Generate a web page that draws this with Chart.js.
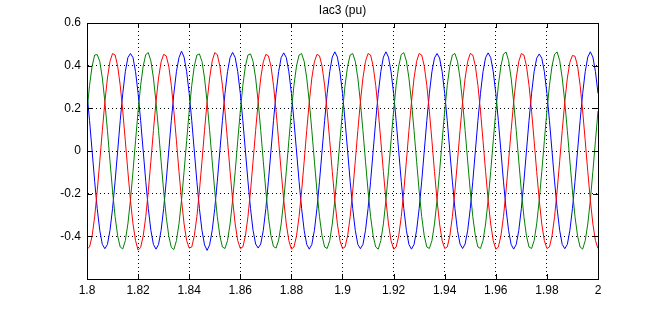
<!DOCTYPE html>
<html>
<head>
<meta charset="utf-8">
<script src="https://cdn.jsdelivr.net/npm/chart.js@4/dist/chart.umd.min.js"></script>
<style>
  html, body { margin: 0; padding: 0; background: #fff; }
  #plot { display: block; }
</style>
</head>
<body>
<canvas id="plot" width="661" height="314"></canvas>
<script>
// samples every 1 ms from 1.8 s to 2.0 s (201 points)
const tStart = 1.8;
const tStep = 0.001;

// phase a (blue)
const phaseA = [
  0.270, 0.142, 0.000, -0.142, -0.270, -0.372, -0.438, -0.458, -0.438, -0.372, -0.270, -0.142, 0.000, 0.142, 0.270, 0.372, 0.438, 0.457, 0.438, 0.372,
  0.270, 0.142, 0.000, -0.142, -0.270, -0.372, -0.438, -0.460, -0.438, -0.372, -0.270, -0.142, 0.000, 0.142, 0.270, 0.372, 0.438, 0.468, 0.440, 0.372,
  0.270, 0.142, 0.000, -0.142, -0.270, -0.372, -0.440, -0.466, -0.440, -0.372, -0.270, -0.142, 0.000, 0.142, 0.270, 0.372, 0.438, 0.462, 0.438, 0.372,
  0.270, 0.142, 0.000, -0.142, -0.270, -0.372, -0.436, -0.455, -0.436, -0.372, -0.270, -0.142, 0.000, 0.142, 0.270, 0.372, 0.438, 0.460, 0.438, 0.372,
  0.270, 0.142, 0.000, -0.142, -0.270, -0.372, -0.438, -0.460, -0.438, -0.372, -0.270, -0.142, 0.000, 0.142, 0.270, 0.372, 0.440, 0.465, 0.440, 0.372,
  0.270, 0.142, 0.000, -0.142, -0.270, -0.372, -0.438, -0.458, -0.438, -0.372, -0.270, -0.142, 0.000, 0.142, 0.270, 0.372, 0.440, 0.465, 0.440, 0.372,
  0.270, 0.142, 0.000, -0.142, -0.270, -0.372, -0.438, -0.460, -0.438, -0.372, -0.270, -0.142, 0.000, 0.142, 0.270, 0.372, 0.436, 0.457, 0.436, 0.372,
  0.270, 0.142, 0.000, -0.142, -0.270, -0.372, -0.436, -0.457, -0.436, -0.372, -0.270, -0.142, 0.000, 0.142, 0.270, 0.372, 0.438, 0.460, 0.438, 0.372,
  0.270, 0.142, 0.000, -0.142, -0.270, -0.372, -0.438, -0.460, -0.438, -0.372, -0.270, -0.142, 0.000, 0.142, 0.270, 0.372, 0.435, 0.455, 0.435, 0.372,
  0.270, 0.142, 0.000, -0.142, -0.270, -0.372, -0.438, -0.458, -0.438, -0.372, -0.270, -0.142, 0.000, 0.142, 0.270, 0.372, 0.440, 0.465, 0.440, 0.372,
  0.270
];

// phase b (green)
const phaseB = [
  0.187, 0.308, 0.398, 0.450, 0.452, 0.420, 0.342, 0.230, 0.096, -0.048, -0.187, -0.308, -0.398, -0.450, -0.459, -0.420, -0.342, -0.230, -0.096, 0.048,
  0.187, 0.308, 0.398, 0.452, 0.461, 0.422, 0.342, 0.230, 0.096, -0.048, -0.187, -0.308, -0.398, -0.452, -0.462, -0.420, -0.342, -0.230, -0.096, 0.048,
  0.187, 0.308, 0.398, 0.450, 0.455, 0.420, 0.342, 0.230, 0.096, -0.048, -0.187, -0.308, -0.398, -0.450, -0.457, -0.420, -0.342, -0.230, -0.096, 0.048,
  0.187, 0.308, 0.398, 0.450, 0.455, 0.420, 0.342, 0.230, 0.096, -0.048, -0.187, -0.308, -0.398, -0.448, -0.455, -0.418, -0.342, -0.230, -0.096, 0.048,
  0.187, 0.308, 0.398, 0.450, 0.457, 0.420, 0.342, 0.230, 0.096, -0.048, -0.187, -0.308, -0.398, -0.450, -0.457, -0.420, -0.342, -0.230, -0.096, 0.048,
  0.187, 0.308, 0.398, 0.450, 0.457, 0.420, 0.342, 0.230, 0.096, -0.048, -0.187, -0.308, -0.398, -0.450, -0.460, -0.420, -0.342, -0.230, -0.096, 0.048,
  0.187, 0.308, 0.398, 0.452, 0.461, 0.422, 0.342, 0.230, 0.096, -0.048, -0.187, -0.308, -0.398, -0.450, -0.457, -0.420, -0.342, -0.230, -0.096, 0.048,
  0.187, 0.308, 0.398, 0.450, 0.457, 0.420, 0.342, 0.230, 0.096, -0.048, -0.187, -0.308, -0.398, -0.450, -0.457, -0.420, -0.342, -0.230, -0.096, 0.048,
  0.187, 0.308, 0.398, 0.454, 0.464, 0.424, 0.342, 0.230, 0.096, -0.048, -0.187, -0.308, -0.398, -0.450, -0.457, -0.420, -0.342, -0.230, -0.096, 0.048,
  0.187, 0.308, 0.398, 0.454, 0.464, 0.424, 0.342, 0.230, 0.096, -0.048, -0.187, -0.308, -0.398, -0.450, -0.460, -0.420, -0.342, -0.230, -0.096, 0.048,
  0.187
];

// phase c (red)
const phaseC = [
  -0.459, -0.450, -0.398, -0.308, -0.187, -0.048, 0.096, 0.230, 0.342, 0.420, 0.457, 0.450, 0.398, 0.308, 0.187, 0.048, -0.096, -0.230, -0.342, -0.420,
  -0.465, -0.452, -0.398, -0.308, -0.187, -0.048, 0.096, 0.230, 0.342, 0.418, 0.453, 0.446, 0.398, 0.308, 0.187, 0.048, -0.096, -0.230, -0.342, -0.420,
  -0.455, -0.450, -0.398, -0.308, -0.187, -0.048, 0.096, 0.230, 0.342, 0.422, 0.461, 0.452, 0.398, 0.308, 0.187, 0.048, -0.096, -0.230, -0.342, -0.420,
  -0.457, -0.450, -0.398, -0.308, -0.187, -0.048, 0.096, 0.230, 0.342, 0.418, 0.453, 0.446, 0.398, 0.308, 0.187, 0.048, -0.096, -0.230, -0.342, -0.420,
  -0.460, -0.450, -0.398, -0.308, -0.187, -0.048, 0.096, 0.230, 0.342, 0.418, 0.453, 0.446, 0.398, 0.308, 0.187, 0.048, -0.096, -0.230, -0.342, -0.420,
  -0.457, -0.450, -0.398, -0.308, -0.187, -0.048, 0.096, 0.230, 0.342, 0.420, 0.457, 0.450, 0.398, 0.308, 0.187, 0.048, -0.096, -0.230, -0.342, -0.420,
  -0.460, -0.450, -0.398, -0.308, -0.187, -0.048, 0.096, 0.230, 0.342, 0.420, 0.457, 0.450, 0.398, 0.308, 0.187, 0.048, -0.096, -0.230, -0.342, -0.420,
  -0.457, -0.450, -0.398, -0.308, -0.187, -0.048, 0.096, 0.230, 0.342, 0.420, 0.457, 0.450, 0.398, 0.308, 0.187, 0.048, -0.096, -0.230, -0.342, -0.420,
  -0.460, -0.450, -0.398, -0.308, -0.187, -0.048, 0.096, 0.230, 0.342, 0.420, 0.457, 0.450, 0.398, 0.308, 0.187, 0.048, -0.096, -0.230, -0.342, -0.420,
  -0.457, -0.450, -0.398, -0.308, -0.187, -0.048, 0.096, 0.230, 0.342, 0.416, 0.448, 0.444, 0.398, 0.308, 0.187, 0.048, -0.096, -0.230, -0.342, -0.420,
  -0.457
];

const titleText = "Iac3 (pu)";
const xTickLabels = ["1.8", "1.82", "1.84", "1.86", "1.88", "1.9", "1.92", "1.94", "1.96", "1.98", "2"];
const yTickLabels = ["", "-0.4", "-0.2", "0", "0.2", "0.4", "0.6"];

function toPoints(values) {
  return values.map((v, i) => ({ x: tStart + i * tStep, y: v }));
}

// solid box plus inward tick marks, like a matlab axes
const boxPlugin = {
  id: "box",
  afterDraw(chart) {
    const ctx = chart.ctx;
    const a = chart.chartArea;
    const xs = chart.scales.x;
    const ys = chart.scales.y;
    const len = 5;
    ctx.save();
    ctx.strokeStyle = "#000";
    ctx.lineWidth = 1;
    ctx.setLineDash([]);
    ctx.beginPath();
    xs.ticks.forEach(t => {
      const px = Math.round(xs.getPixelForValue(t.value)) + 0.5;
      ctx.moveTo(px, a.bottom); ctx.lineTo(px, a.bottom - len);
      ctx.moveTo(px, a.top); ctx.lineTo(px, a.top + len);
    });
    ys.ticks.forEach(t => {
      const py = Math.round(ys.getPixelForValue(t.value)) + 0.5;
      ctx.moveTo(a.left, py); ctx.lineTo(a.left + len, py);
      ctx.moveTo(a.right, py); ctx.lineTo(a.right - len, py);
    });
    ctx.stroke();
    ctx.strokeRect(Math.round(a.left) + 0.5, Math.round(a.top) + 0.5,
      Math.round(a.right - a.left), Math.round(a.bottom - a.top));
    ctx.restore();
  }
};

const tickFont = { family: "'Liberation Sans', Arial, sans-serif", size: 12 };

new Chart(document.getElementById("plot").getContext("2d"), {
  type: "line",
  data: {
    datasets: [
      { label: "c", data: toPoints(phaseC), borderColor: "#ff0000" },
      { label: "b", data: toPoints(phaseB), borderColor: "#008000" },
      { label: "a", data: toPoints(phaseA), borderColor: "#0000ff" }
    ]
  },
  options: {
    responsive: false,
    animation: false,
    devicePixelRatio: 1,
    layout: { padding: { left: 0, right: 63, top: 0, bottom: 0 } },
    elements: {
      line: { borderWidth: 1, tension: 0, fill: false },
      point: { radius: 0, hoverRadius: 0 }
    },
    plugins: {
      legend: { display: false },
      tooltip: { enabled: false },
      title: {
        display: true,
        text: titleText,
        fullSize: false,
        color: "#000",
        font: { family: "'Liberation Sans', Arial, sans-serif", size: 12, weight: "normal", lineHeight: "14px" },
        padding: { top: 4, bottom: 5 }
      }
    },
    scales: {
      x: {
        type: "linear",
        min: 1.8,
        max: 2,
        afterFit: s => { s.height = 35; },
        afterBuildTicks: s => { s.ticks = xTickLabels.map(l => ({ value: parseFloat(l) })); },
        ticks: {
          autoSkip: false,
          maxRotation: 0,
          padding: 4,
          color: "#000",
          font: tickFont,
          callback: (v, i) => xTickLabels[i]
        },
        grid: { color: "#000", lineWidth: 1, drawTicks: false },
        border: { display: true, color: "#000", width: 1, dash: [1, 3] }
      },
      y: {
        type: "linear",
        min: -0.6,
        max: 0.6,
        afterFit: s => { s.width = 87; },
        afterBuildTicks: s => {
          s.ticks = [-0.6, -0.4, -0.2, 0, 0.2, 0.4, 0.6].map(v => ({ value: v }));
        },
        ticks: {
          padding: 6,
          color: "#000",
          font: tickFont,
          callback: (v, i) => yTickLabels[i]
        },
        grid: { color: "#000", lineWidth: 1, drawTicks: false },
        border: { display: true, color: "#000", width: 1, dash: [1, 3] }
      }
    }
  },
  plugins: [boxPlugin]
});
</script>
</body>
</html>
